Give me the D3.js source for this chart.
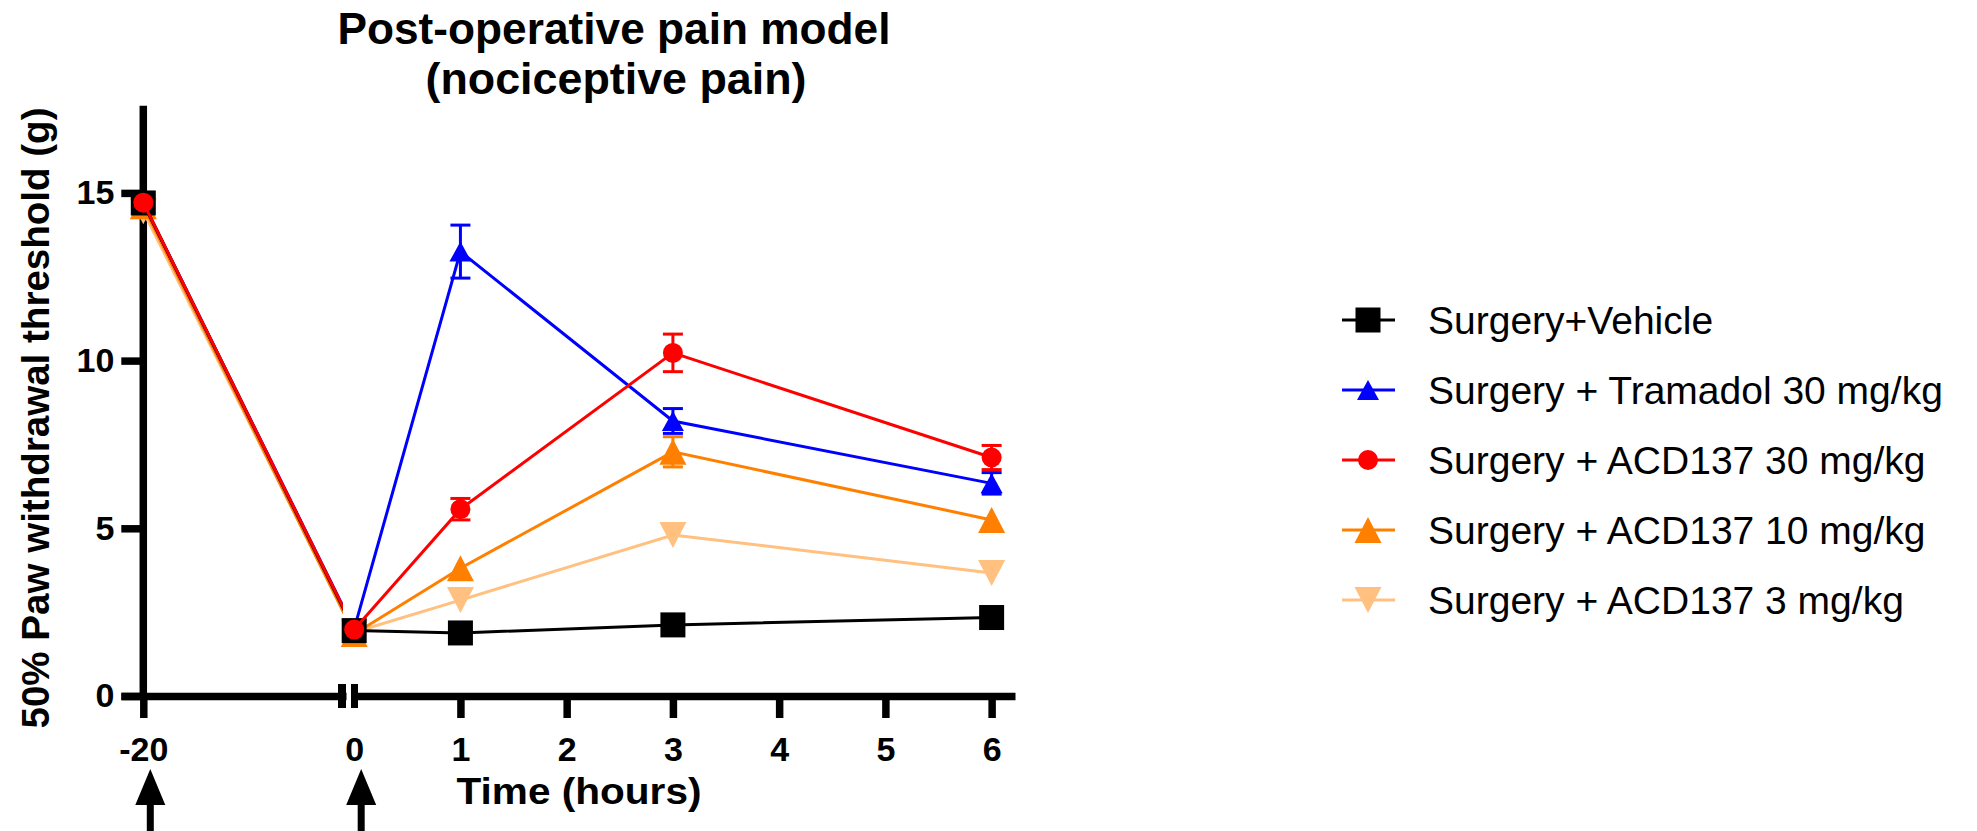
<!DOCTYPE html>
<html>
<head>
<meta charset="utf-8">
<script src="https://cdn.jsdelivr.net/npm/d3@7"></script>
<style>
  body { margin: 0; background: #fff; }
  svg { display: block; }
</style>
</head>
<body>
<script>
// Sampling times (hours relative to surgery); -20 h is the pre-surgery baseline
const timepoints = [-20, 0, 1, 3, 6];

const seriesNames = [
  "Surgery+Vehicle",
  "Surgery + Tramadol 30 mg/kg",
  "Surgery + ACD137 30 mg/kg",
  "Surgery + ACD137 10 mg/kg",
  "Surgery + ACD137 3 mg/kg"
];

// 50% paw withdrawal threshold (g), mean and SEM per time point
const vehicleMean   = [14.70, 1.95, 1.88, 2.12, 2.34];
const vehicleSem    = [0.30, 0.25, 0.15, 0.15, 0.15];
const tramadolMean  = [14.70, 2.00, 13.25, 8.20, 6.34];
const tramadolSem   = [0.25, 0.20, 0.79, 0.37, 0.32];
const acd30Mean     = [14.71, 1.98, 5.57, 10.23, 7.11];
const acd30Sem      = [0.25, 0.20, 0.32, 0.56, 0.36];
const acd10Mean     = [14.60, 1.85, 3.81, 7.28, 5.25];
const acd10Sem      = [0.30, 0.20, 0.25, 0.45, 0.30];
const acd3Mean      = [14.45, 1.90, 2.86, 4.80, 3.67];
const acd3Sem       = [0.34, 0.20, 0.20, 0.25, 0.25];

const yTicks = [0, 5, 10, 15];
const xTicksLeft = [-20];
const xTicksRight = [0, 1, 2, 3, 4, 5, 6];
const dosingTimes = [-20, 0];

const W = 1977, H = 831;
const svg = d3.select("body").append("svg").attr("width", W).attr("height", H);

// Scales: broken x axis (baseline segment + 0-6 h segment)
const y = d3.scaleLinear().domain([0, 17.6]).range([696, 105.7]);
const xLeft = d3.scaleLinear().domain([-20.55, -15]).range([121, 346]);
const xRight = d3.scaleLinear().domain([-0.03, 6.22]).range([351, 1015]);
const xPos = t => (t < -0.5 ? xLeft(t) : xRight(t));

const tickFont = "'Liberation Sans', Arial, sans-serif";
const AXW = 7.5;

// Drawing order: last entry ends up on top
const series = [
  { name: seriesNames[4], mean: acd3Mean, sem: acd3Sem, color: "#FFC080", shape: "down", w: 27, h: 26 },
  { name: seriesNames[3], mean: acd10Mean, sem: acd10Sem, color: "#FF8000", shape: "up", w: 27, h: 26 },
  { name: seriesNames[1], mean: tramadolMean, sem: tramadolSem, color: "#0000FF", shape: "up", w: 22, h: 20 },
  { name: seriesNames[0], mean: vehicleMean, sem: vehicleSem, color: "#000000", shape: "square", w: 25, h: 25 },
  { name: seriesNames[2], mean: acd30Mean, sem: acd30Sem, color: "#FF0000", shape: "circle", w: 20, h: 20 }
];

function drawMarker(g, s, cx, cy) {
  const hw = s.w / 2, hh = s.h / 2;
  if (s.shape === "circle") {
    g.append("circle").attr("cx", cx).attr("cy", cy).attr("r", hw).attr("fill", s.color);
  } else if (s.shape === "square") {
    g.append("rect").attr("x", cx - hw).attr("y", cy - hh)
      .attr("width", s.w).attr("height", s.h).attr("fill", s.color);
  } else {
    const pts = s.shape === "up"
      ? [[cx - hw, cy + hh], [cx, cy - hh], [cx + hw, cy + hh]]
      : [[cx - hw, cy - hh], [cx, cy + hh], [cx + hw, cy - hh]];
    g.append("polygon").attr("points", pts.map(p => p.join(",")).join(" ")).attr("fill", s.color);
  }
}

// Clip for the segment running from baseline toward the axis break
svg.append("clipPath").attr("id", "leftClip")
  .append("rect").attr("x", 0).attr("y", 0).attr("width", 343).attr("height", H);

// ---- Axes ----
const fmt = d => String(d);
const gYAxis = svg.append("g").attr("transform", `translate(${xLeft(-20)},0)`)
  .call(d3.axisLeft(y).tickValues(yTicks).tickFormat(fmt).tickSize(22).tickSizeOuter(0).tickPadding(7));
const gXLeft = svg.append("g").attr("transform", `translate(0,${y(0)})`)
  .call(d3.axisBottom(xLeft).tickValues(xTicksLeft).tickFormat(fmt).tickSize(22).tickSizeOuter(0).tickPadding(19));
const gXRight = svg.append("g").attr("transform", `translate(0,${y(0)})`)
  .call(d3.axisBottom(xRight).tickValues(xTicksRight).tickFormat(fmt).tickSize(22).tickSizeOuter(0).tickPadding(19));

[gYAxis, gXLeft, gXRight].forEach(g => {
  g.select(".domain").attr("stroke", "#000").attr("stroke-width", AXW);
  g.selectAll(".tick line").attr("stroke", "#000").attr("stroke-width", AXW);
  g.selectAll(".tick text").attr("fill", "#000")
    .style("font-family", tickFont).style("font-weight", "bold").style("font-size", "34px");
});
gYAxis.select(".domain").attr("d", `M0,${y(17.6)}V${y(0)}`);
gXRight.selectAll(".tick").filter(d => d === 0).select("line").remove();

// Break marks on the x axis
svg.append("rect").attr("x", xLeft.range()[1] - 8).attr("y", y(0) - 12).attr("width", 8).attr("height", 24).attr("fill", "#000");
svg.append("rect").attr("x", xRight.range()[0]).attr("y", y(0) - 12).attr("width", 7).attr("height", 24).attr("fill", "#000");

// Dosing arrows
dosingTimes.forEach(t => {
  const ax = xPos(t) + 7;
  svg.append("polygon")
    .attr("points", `${ax - 15},805 ${ax},769 ${ax + 15},805`).attr("fill", "#000");
  svg.append("rect").attr("x", ax - 3.5).attr("y", 804).attr("width", 7).attr("height", 30).attr("fill", "#000");
});

// ---- Data ----
const line = d3.line().x(d => xPos(d.t)).y(d => y(d.v));

series.forEach(s => {
  const pts = timepoints.map((t, i) => ({ t, v: s.mean[i], e: s.sem[i] }));
  const g = svg.append("g");
  // baseline -> 0 h segment, cut at the axis break
  g.append("path").datum(pts.slice(0, 2)).attr("d", line)
    .attr("fill", "none").attr("stroke", s.color).attr("stroke-width", 3)
    .attr("clip-path", "url(#leftClip)");
  g.append("path").datum(pts.slice(1)).attr("d", line)
    .attr("fill", "none").attr("stroke", s.color).attr("stroke-width", 3);
  // SEM error bars, left out when the symbol would cover them
  pts.forEach(p => {
    const cx = xPos(p.t), y1 = y(p.v + p.e), y2 = y(p.v - p.e);
    if ((y2 - y1) / 2 <= s.h / 2) return;
    g.append("line").attr("x1", cx).attr("x2", cx).attr("y1", y1).attr("y2", y2)
      .attr("stroke", s.color).attr("stroke-width", 3);
    [y1, y2].forEach(yy => g.append("line").attr("x1", cx - 10).attr("x2", cx + 10)
      .attr("y1", yy).attr("y2", yy).attr("stroke", s.color).attr("stroke-width", 3));
  });
  pts.forEach(p => drawMarker(g, s, xPos(p.t), y(p.v)));
});

// ---- Titles ----
const titleFont = "'Liberation Sans Narrow', 'Liberation Sans', Arial, sans-serif";
const title = svg.append("text").attr("text-anchor", "middle")
  .style("font-family", titleFont).style("font-weight", 700).style("font-size", "44px");
title.append("tspan").attr("x", 614).attr("y", 44)
  .attr("textLength", 553).attr("lengthAdjust", "spacingAndGlyphs")
  .text("Post-operative pain model");
title.append("tspan").attr("x", 616).attr("y", 94)
  .attr("textLength", 381).attr("lengthAdjust", "spacingAndGlyphs")
  .text("(nociceptive pain)");

svg.append("text").attr("transform", "translate(49,418) rotate(-90)").attr("text-anchor", "middle")
  .attr("textLength", 621).attr("lengthAdjust", "spacingAndGlyphs")
  .style("font-family", tickFont).style("font-weight", "bold").style("font-size", "38px")
  .text("50% Paw withdrawal threshold (g)");

svg.append("text").attr("x", 579).attr("y", 804).attr("text-anchor", "middle")
  .attr("textLength", 245).attr("lengthAdjust", "spacingAndGlyphs")
  .style("font-family", tickFont).style("font-weight", "bold").style("font-size", "36px")
  .text("Time (hours)");

// ---- Legend ----
const legendOrder = [3, 2, 4, 1, 0]; // indices into `series`, listed top to bottom
const legendY0 = 320, legendStep = 70;
legendOrder.forEach((si, i) => {
  const s = series[si];
  const cy = legendY0 + i * legendStep;
  const g = svg.append("g");
  g.append("line").attr("x1", 1342).attr("x2", 1395).attr("y1", cy).attr("y2", cy)
    .attr("stroke", s.color).attr("stroke-width", 3);
  drawMarker(g, s, 1368, cy);
  g.append("text").attr("x", 1428).attr("y", cy + 14)
    .style("font-family", tickFont).style("font-size", "39px").attr("fill", "#000")
    .text(s.name);
});
</script>
</body>
</html>
